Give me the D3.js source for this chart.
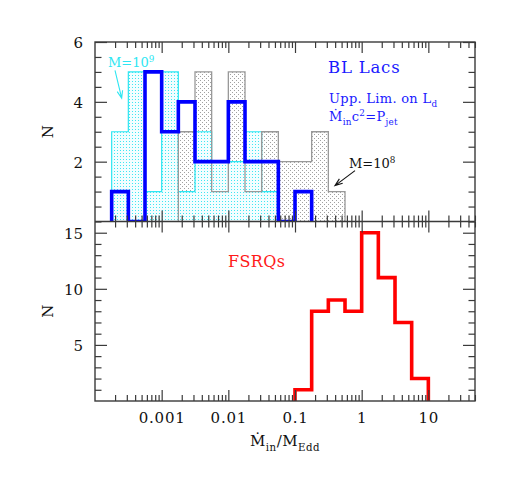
<!DOCTYPE html>
<html>
<head>
<meta charset="utf-8">
<script src="https://cdn.jsdelivr.net/npm/d3@7"></script>
<style>
  body { margin: 0; background: #fff; }
  svg text { font-family: "DejaVu Serif", serif; }
</style>
</head>
<body>
<script>
// bins are 0.25 dex wide, given by log10 of lower edge
var binWidth = 0.25;

// BL Lacs, upper limits on L_d
var blBins = [-3.75, -3.5, -3.25, -3, -2.75, -2.5, -2.25, -2, -1.75, -1.5, -1.25, -1];
var blUpper = [1, 0, 5, 3, 4, 2, 2, 4, 2, 2, 0, 1];

// Mdot c^2 = P_jet, M = 1e9 (cyan)
var jet9Bins = [-3.75, -3.5, -3.25, -3, -2.75, -2.5, -2.25, -2, -1.75, -1.5];
var jet9 = [3, 5, 1, 5, 1, 3, 2, 2, 3, 1];

// Mdot c^2 = P_jet, M = 1e8 (grey)
var jet8Bins = [-2.75, -2.5, -2.25, -2, -1.75, -1.5, -1.25, -1, -0.75, -0.5];
var jet8 = [3, 5, 1, 5, 1, 3, 2, 2, 3, 1];

// FSRQs
var fsrqBins = [-1, -0.75, -0.5, -0.25, 0, 0.25, 0.5, 0.75];
var fsrq = [1, 8, 9, 8, 15, 11, 7, 2];

// axis ticks
var xMajor = [0.001, 0.01, 0.1, 1, 10];
var xLabels = ['0.001', '0.01', '0.1', '1', '10'];
var yTopMajor = [2, 4, 6];
var yBotMajor = [5, 10, 15];

var W = 518, H = 491;
var padL = 95, padR = 475, padT = 42, midY = 221.5, padB = 401;

var svg = d3.select('body').append('svg')
    .attr('width', W)
    .attr('height', H);

var x = d3.scaleLog().domain([1e-4, 50.1]).range([padL, padR]);
var yTop = d3.scaleLinear().domain([0, 6]).range([midY, padT]);
var yBot = d3.scaleLinear().domain([0, 16]).range([padB, midY]);

var defs = svg.append('defs');

//dot patterns like the SM shading
var pc = defs.append('pattern').attr('id', 'cyanDots')
    .attr('patternUnits', 'userSpaceOnUse').attr('width', 3).attr('height', 3);
pc.append('rect').attr('width', 3).attr('height', 3).attr('fill', '#f2feff');
pc.append('rect').attr('x', 0).attr('y', 0).attr('width', 1).attr('height', 1).attr('fill', '#3fe6f2');

var pg = defs.append('pattern').attr('id', 'greyDots')
    .attr('patternUnits', 'userSpaceOnUse').attr('width', 4).attr('height', 4);
pg.append('rect').attr('width', 4).attr('height', 4).attr('fill', '#fff');
pg.append('rect').attr('x', 0).attr('y', 0).attr('width', 1).attr('height', 1).attr('fill', '#a0a0a0');
pg.append('rect').attr('x', 2).attr('y', 2).attr('width', 1).attr('height', 1).attr('fill', '#a0a0a0');

defs.append('clipPath').attr('id', 'clipTop').append('rect')
    .attr('x', padL).attr('y', padT).attr('width', padR - padL).attr('height', midY - padT);
defs.append('clipPath').attr('id', 'clipBot').append('rect')
    .attr('x', padL).attr('y', midY).attr('width', padR - padL).attr('height', padB - midY);

//build step points for a histogram
function steps(bins, counts) {
	var pts = [[bins[0], 0]];
	bins.forEach(function(lo, i){
		pts.push([lo, counts[i]]);
		pts.push([lo + binWidth, counts[i]]);
	});
	pts.push([bins[bins.length - 1] + binWidth, 0]);
	return pts;
}

function lineFor(y) {
	return d3.line()
		.x(function(d){ return x(Math.pow(10, d[0])); })
		.y(function(d){ return y(d[1]); });
}
function areaFor(y) {
	return d3.area()
		.x(function(d){ return x(Math.pow(10, d[0])); })
		.y0(y(0))
		.y1(function(d){ return y(d[1]); });
}

//UPPER PANEL
var gTop = svg.append('g').attr('clip-path', 'url(#clipTop)');

gTop.append('path').datum(steps(jet8Bins, jet8))
    .attr('d', areaFor(yTop)).attr('fill', 'url(#greyDots)');
gTop.append('path').datum(steps(jet9Bins, jet9))
    .attr('d', areaFor(yTop)).attr('fill', 'url(#cyanDots)');
gTop.append('path').datum(steps(jet9Bins, jet9))
    .attr('d', lineFor(yTop)).attr('fill', 'none')
    .attr('stroke', '#2ee6f2').attr('stroke-width', 1.2);
gTop.append('path').datum(steps(jet8Bins, jet8))
    .attr('d', lineFor(yTop)).attr('fill', 'none')
    .attr('stroke', '#999').attr('stroke-width', 1.3);
gTop.append('path').datum(steps(blBins, blUpper))
    .attr('d', lineFor(yTop)).attr('fill', 'none')
    .attr('stroke', '#0000ff').attr('stroke-width', 3.6)
    .attr('stroke-linejoin', 'miter');

//LOWER PANEL
var gBot = svg.append('g').attr('clip-path', 'url(#clipBot)');
gBot.append('path').datum(steps(fsrqBins, fsrq))
    .attr('d', lineFor(yBot)).attr('fill', 'none')
    .attr('stroke', '#ff0000').attr('stroke-width', 3.6)
    .attr('stroke-linejoin', 'miter');

//AXES
var xMinor = [];
for (var e = -4; e <= 1; e++) {
	for (var m = 2; m <= 9; m++) {
		var v = m * Math.pow(10, e);
		if (v < 50.1) xMinor.push(v);
	}
}

var axisColor = '#3a3a3a';

function xAxes(yPos, dir, labels) {
	//dir = -1 ticks up, +1 ticks down
	var major = d3.axisBottom(x).tickValues(xMajor).tickSizeOuter(0)
		.tickSizeInner(11 * dir)
		.tickFormat(function(d, i){ return labels ? xLabels[i] : ''; });
	var minor = d3.axisBottom(x).tickValues(xMinor).tickSizeOuter(0)
		.tickSizeInner(6 * dir).tickFormat('');
	var g1 = svg.append('g').attr('transform', 'translate(0,' + yPos + ')').call(major);
	var g2 = svg.append('g').attr('transform', 'translate(0,' + yPos + ')').call(minor);
	[g1, g2].forEach(function(g){
		g.select('.domain').remove();
		g.selectAll('line').attr('stroke', axisColor).attr('stroke-width', 1.2);
	});
	g1.selectAll('text').attr('y', 22).attr('dy', 0)
		.attr('font-size', 15).attr('fill', '#111')
		.attr('letter-spacing', 0.8)
		.attr('font-family', 'DejaVu Serif');
}

xAxes(padT, 1, false);
xAxes(midY, -1, false);
xAxes(midY, 1, false);
xAxes(padB, -1, true);

function yAxes(y, xPos, dir, majors, minorStep, max, labels) {
	var minors = d3.range(minorStep, max + 0.001, minorStep).filter(function(v){
		return majors.indexOf(v) < 0;
	});
	var major = (dir > 0 ? d3.axisLeft(y) : d3.axisRight(y)).tickValues(majors)
		.tickSizeOuter(0).tickSizeInner(-12)
		.tickFormat(function(d){ return labels ? d : ''; });
	var minor = (dir > 0 ? d3.axisLeft(y) : d3.axisRight(y)).tickValues(minors)
		.tickSizeOuter(0).tickSizeInner(-6.5).tickFormat('');
	var g1 = svg.append('g').attr('transform', 'translate(' + xPos + ',0)').call(major);
	var g2 = svg.append('g').attr('transform', 'translate(' + xPos + ',0)').call(minor);
	[g1, g2].forEach(function(g){
		g.select('.domain').remove();
		g.selectAll('line').attr('stroke', axisColor).attr('stroke-width', 1.2);
	});
	g1.selectAll('text').attr('x', -12).attr('dy', '0.36em')
		.attr('font-size', 15).attr('fill', '#111')
		.attr('font-family', 'DejaVu Serif');
}

yAxes(yTop, padL, 1, yTopMajor, 0.5, 6, true);
yAxes(yTop, padR, -1, yTopMajor, 0.5, 6, false);
yAxes(yBot, padL, 1, yBotMajor, 1, 16, true);
yAxes(yBot, padR, -1, yBotMajor, 1, 16, false);

//frames
svg.append('rect').attr('x', padL).attr('y', padT)
    .attr('width', padR - padL).attr('height', padB - padT)
    .attr('fill', 'none').attr('stroke', axisColor).attr('stroke-width', 1.4);
svg.append('line').attr('x1', padL).attr('x2', padR).attr('y1', midY).attr('y2', midY)
    .attr('stroke', axisColor).attr('stroke-width', 1.4);

//TEXT
//parts: [text, 'sub' | 'sup' | null]
function rich(xp, yp, parts, size, color, anchor, spacing) {
	var t = svg.append('text').attr('x', xp).attr('y', yp)
		.attr('font-size', size).attr('fill', color)
		.attr('text-anchor', anchor || 'start')
		.attr('letter-spacing', spacing || 0);
	var shift = 0;
	parts.forEach(function(p){
		var target = p[1] === 'sub' ? size * 0.3 : (p[1] === 'sup' ? -size * 0.4 : 0);
		t.append('tspan')
			.attr('dy', target - shift)
			.attr('font-size', p[1] ? size * 0.68 : size)
			.text(p[0]);
		shift = target;
	});
	return t;
}

rich(328, 73, [['BL Lacs']], 16.5, '#1a1aff', 'start', 0.8);
rich(329, 103, [['Upp. Lim. on L'], ['d', 'sub']], 13, '#1a1aff', 'start', 0.3);
rich(329, 121, [['\u1E40'], ['in', 'sub'], ['c'], ['2', 'sup'], ['=P'], ['jet', 'sub']], 13, '#1a1aff', 'start', 0.3);
rich(349, 168, [['M=10'], ['8', 'sup']], 13, '#111', 'start', 0);
rich(108, 67, [['M=10'], ['9', 'sup']], 13, '#2ee6f2', 'start', 0);
rich(228, 267, [['FSRQs']], 16, '#ff1a1a', 'start', 0.4);

rich(285, 446, [['\u1E40'], ['in', 'sub'], ['/M'], ['Edd', 'sub']], 15, '#111', 'middle', 0.5);

svg.append('text').attr('transform', 'translate(53,' + ((padT + midY) / 2) + ') rotate(-90)')
    .attr('text-anchor', 'middle').attr('font-size', 15).attr('fill', '#111').text('N');
svg.append('text').attr('transform', 'translate(53,' + ((midY + padB) / 2) + ') rotate(-90)')
    .attr('text-anchor', 'middle').attr('font-size', 15).attr('fill', '#111').text('N');

//ARROWS (data coords: log10 x, y counts)
var arrows = [
	{from: [-3.7, 5.05], to: [-3.6, 4.12], color: '#2ee6f2'},
	{from: [-0.1, 1.7], to: [-0.4, 1.2], color: '#111'}
];

arrows.forEach(function(a){
	var x1 = x(Math.pow(10, a.from[0])), y1 = yTop(a.from[1]),
		x2 = x(Math.pow(10, a.to[0])), y2 = yTop(a.to[1]);
	var ang = Math.atan2(y2 - y1, x2 - x1),
		len = 8, spread = 0.35;
	var d = 'M' + x1 + ',' + y1 + 'L' + x2 + ',' + y2 +
		'M' + (x2 - len * Math.cos(ang - spread)) + ',' + (y2 - len * Math.sin(ang - spread)) +
		'L' + x2 + ',' + y2 +
		'L' + (x2 - len * Math.cos(ang + spread)) + ',' + (y2 - len * Math.sin(ang + spread));
	svg.append('path').attr('d', d).attr('fill', 'none')
		.attr('stroke', a.color).attr('stroke-width', 1.1);
});
</script>
</body>
</html>
